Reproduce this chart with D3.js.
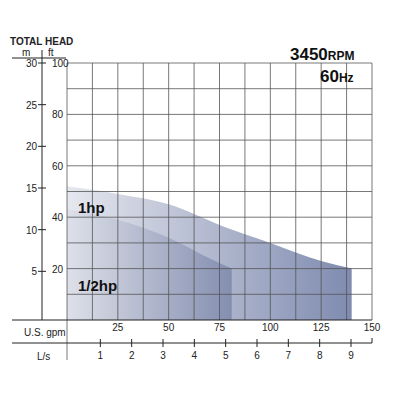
<!DOCTYPE html>
<html><head><meta charset="utf-8">
<script src="https://cdn.jsdelivr.net/npm/d3@7"></script>
<style>body{margin:0;background:#fff}text{font-family:"Liberation Sans",Arial,sans-serif}</style>
</head><body><svg width="400" height="400"></svg>
<script>
const gpmTicks = [25, 50, 75, 100, 125, 150];
const lsTicks = [1, 2, 3, 4, 5, 6, 7, 8, 9];
const ftTicks = [20, 40, 60, 80, 100];
const mTicks = [5, 10, 15, 20, 25, 30];
// pump curves: [gpm, ft]
const curve1hp = [[0, 52], [25, 49], [50, 45], [75, 37], [100, 30], [125, 23], [140, 20]];
const curveHalf = [[0, 43], [25, 39], [50, 32], [70, 24], [81, 20]];

const svg = d3.select('svg');
const x = d3.scaleLinear().domain([0, 150]).range([67, 372]);
const y = d3.scaleLinear().domain([0, 100]).range([320, 63]);
const ym = d3.scaleLinear().domain([0, 30]).range([313, 63]);
const xl = d3.scaleLinear().domain([0, 9]).range([69, 351]);

const defs = svg.append('defs');
function grad(id, c1, c2) {
  const g = defs.append('linearGradient').attr('id', id);
  g.append('stop').attr('offset', '0%').attr('stop-color', c1);
  g.append('stop').attr('offset', '100%').attr('stop-color', c2);
}
grad('g1', '#e6e8ef', '#7f8bb0');
grad('g2', '#dcdfe8', '#7d88ab');

const area = d3.area().x(d => x(d[0])).y0(y(0)).y1(d => y(d[1])).curve(d3.curveMonotoneX);
svg.append('path').datum(curve1hp).attr('d', area).attr('fill', 'url(#g1)');
svg.append('path').datum(curveHalf).attr('d', area).attr('fill', 'url(#g2)').attr('opacity', 0.85);

// grid
const g = svg.append('g').attr('stroke', '#555').attr('stroke-width', 0.8);
g.selectAll('.v').data(d3.range(12.5, 150.1, 12.5)).join('line')
  .attr('x1', d => x(d)).attr('x2', d => x(d)).attr('y1', y(100)).attr('y2', y(0));
g.selectAll('.h').data(d3.range(10, 100.1, 10)).join('line')
  .attr('x1', x(0)).attr('x2', x(150)).attr('y1', d => y(d)).attr('y2', d => y(d));
g.append('line').attr('x1', x(0)).attr('x2', x(0)).attr('y1', y(100)).attr('y2', 360);

// left axes
const k = svg.append('g').attr('stroke', '#222').attr('stroke-width', 1);
k.append('line').attr('x1', 42).attr('x2', 42).attr('y1', 50).attr('y2', 320);
k.append('line').attr('x1', 12).attr('x2', 66).attr('y1', 58).attr('y2', 58);
k.append('line').attr('x1', 12).attr('x2', 372).attr('y1', 320).attr('y2', 320);
k.append('line').attr('x1', 12).attr('x2', 372).attr('y1', 343).attr('y2', 343);
k.selectAll('.mt').data(mTicks).join('line')
  .attr('x1', 38).attr('x2', 46).attr('y1', d => ym(d)).attr('y2', d => ym(d));
k.selectAll('.lt').data(lsTicks).join('line')
  .attr('x1', d => xl(d)).attr('x2', d => xl(d)).attr('y1', 339).attr('y2', 347);
k.append('line').attr('x1', 372).attr('x2', 372).attr('y1', 338).attr('y2', 343);

const t = svg.append('g').attr('fill', '#222').attr('font-size', 10);
t.selectAll('.ml').data(mTicks).join('text').attr('x', 37).attr('y', d => ym(d) + 4)
  .attr('text-anchor', 'end').text(d => d);
t.selectAll('.fl').data(ftTicks).join('text').attr('x', 52).attr('y', d => y(d) + 4)
  .text(d => d);
t.selectAll('.gl').data(gpmTicks).join('text').attr('x', d => x(d)).attr('y', 331)
  .attr('text-anchor', 'middle').text(d => d);
t.selectAll('.ll').data(lsTicks).join('text').attr('x', d => xl(d)).attr('y', 359)
  .attr('text-anchor', 'middle').text(d => d);
t.append('text').attr('x', 10).attr('y', 45).attr('font-weight', 'bold').text('TOTAL HEAD');
t.append('text').attr('x', 22).attr('y', 56).text('m');
t.append('text').attr('x', 48).attr('y', 56).text('ft');
t.append('text').attr('x', 24).attr('y', 336).text('U.S. gpm');
t.append('text').attr('x', 37).attr('y', 360).text('L/s');

const b = svg.append('g').attr('fill', '#111').attr('font-weight', 'bold');
const rpm = b.append('text').attr('x', 290).attr('y', 60).attr('font-size', 17);
rpm.append('tspan').text('3450');
rpm.append('tspan').attr('font-size', 12).text('RPM');
const hz = b.append('text').attr('x', 320).attr('y', 82).attr('font-size', 17);
hz.append('tspan').text('60');
hz.append('tspan').attr('font-size', 12).text('Hz');
b.append('text').attr('x', 78).attr('y', 213).attr('font-size', 15).text('1hp');
b.append('text').attr('x', 78).attr('y', 291).attr('font-size', 15).text('1/2hp');
</script></body></html>
